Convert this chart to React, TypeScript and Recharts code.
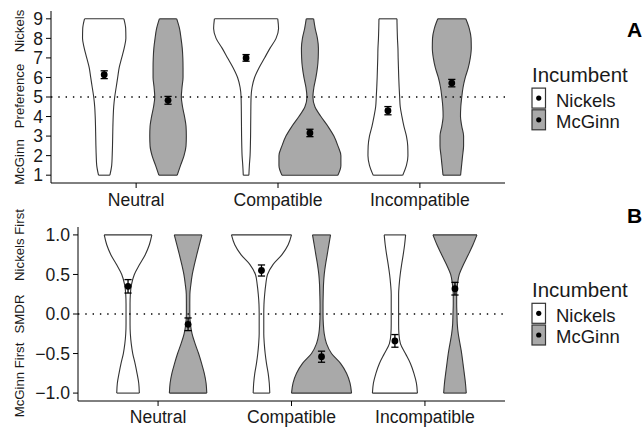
import React from "react";
import { ComposedChart, Area, Scatter, ErrorBar, XAxis, YAxis, ReferenceLine } from "recharts";

const CATEGORIES = ["Neutral", "Compatible", "Incompatible"];
const INCUMBENTS = ["Nickels", "McGinn"];
const FILLS = ["#ffffff", "#a9a9a9"];
const DODGE = 0.225;

// Panel A: preference (1 = McGinn .. 9 = Nickels)
const PREF_LEVELS = [1, 1.5, 2, 2.5, 3, 3.5, 4, 4.5, 5, 5.5, 6, 6.5, 7, 7.5, 8, 8.5, 9];
const PREF_TICKS = [1, 2, 3, 4, 5, 6, 7, 8, 9];
// violin half widths, read in px off the figure (142 px per category), bottom -> top
const PREF_NEUTRAL_NICKELS = [5.7, 7.5, 8, 8.3, 8.5, 8.7, 9, 9.5, 10.5, 12, 13.5, 15, 17.5, 20, 21.7, 21.5, 19.7];
const PREF_NEUTRAL_MCGINN = [9.2, 12.5, 16, 18, 18.3, 18, 16.5, 14.5, 13.3, 14, 15, 15, 14.8, 14.2, 13, 11.5, 8.7];
const PREF_COMPAT_NICKELS = [2.8, 3.3, 4, 4.3, 4.5, 4.6, 4.7, 4.8, 5, 6, 8.5, 13, 18.5, 24, 30, 32.5, 31.7];
const PREF_COMPAT_MCGINN = [28, 31, 31, 28, 24, 18, 11, 5, 3, 4, 6, 7.5, 8.3, 8.5, 7.5, 5.3, 3.7];
const PREF_INCOMPAT_NICKELS = [14.8, 18.5, 20, 19.8, 18.5, 16, 14, 12.3, 11.7, 11.2, 10.8, 10.5, 10.2, 10, 9.5, 9.2, 9];
const PREF_INCOMPAT_MCGINN = [8.8, 9.8, 10.8, 11.8, 11.8, 10, 8.7, 9, 10, 11.3, 13.5, 16.5, 18.5, 19.5, 19.3, 17.5, 14];
const PREF_MEAN_NICKELS = [6.14, 7.0, 4.3];
const PREF_SE_NICKELS = [0.2, 0.17, 0.21];
const PREF_MEAN_MCGINN = [4.83, 3.16, 5.71];
const PREF_SE_MCGINN = [0.2, 0.19, 0.19];

// Panel B: SMDR (-1 = McGinn first .. 1 = Nickels first)
const SMDR_LEVELS = [-1, -0.875, -0.75, -0.625, -0.5, -0.375, -0.25, -0.125, 0, 0.125, 0.25, 0.375, 0.5, 0.625, 0.75, 0.875, 1];
const SMDR_TICKS = [-1, -0.5, 0, 0.5, 1];
// half widths in px (133.4 px per category), bottom -> top
const SMDR_NEUTRAL_NICKELS = [11.3, 10.7, 9, 7, 4.7, 3.2, 2.3, 2, 2, 2, 2.3, 3.5, 6.3, 11.5, 17.2, 21.3, 23.8];
const SMDR_NEUTRAL_MCGINN = [18.7, 18, 16.2, 13.5, 10.5, 7, 4, 2.3, 1.7, 1.7, 1.8, 2.8, 4.2, 6.3, 8.7, 11.2, 13.8];
const SMDR_COMPAT_NICKELS = [8.3, 7.8, 6.7, 5, 3.7, 2.8, 2.3, 2.3, 2.3, 2.5, 3.2, 4.3, 6, 11.5, 20.5, 26.7, 30];
const SMDR_COMPAT_MCGINN = [30, 28.5, 25, 19, 10, 5, 2.7, 1.8, 1.5, 1.5, 1.7, 2, 2.7, 4, 5.7, 7.3, 9];
const SMDR_INCOMPAT_NICKELS = [22.5, 21.5, 19, 15.5, 10.5, 5.5, 4, 3.7, 3.7, 3.7, 3.7, 4.3, 5.3, 6.7, 8.3, 9.7, 10.7];
const SMDR_INCOMPAT_MCGINN = [11.3, 10.5, 9.3, 8, 6.7, 5, 3.3, 2.3, 2, 1.7, 1.7, 2.5, 4.3, 8.5, 13.3, 18, 22];
const SMDR_MEAN_NICKELS = [0.35, 0.55, -0.34];
const SMDR_SE_NICKELS = [0.085, 0.07, 0.08];
const SMDR_MEAN_MCGINN = [-0.13, -0.54, 0.32];
const SMDR_SE_MCGINN = [0.08, 0.07, 0.08];

const FONT = "'Liberation Sans', Arial, sans-serif";
const INK = "#1a1a1a";
const LINE = "#333333";

function centerOf(k: number) {
  const cat = Math.floor(k / 2) + 1;
  return k % 2 === 0 ? cat - DODGE : cat + DODGE;
}

function buildRows(levels: number[], widths: number[][], pxPerUnit: number) {
  return levels.map((y, i) => {
    const row: any = { y };
    widths.forEach((w, k) => {
      const c = centerOf(k);
      const hw = w[i] / pxPerUnit;
      row["v" + k] = [c - hw, c + hw];
    });
    return row;
  });
}

function buildPoints(means: number[][], ses: number[][]) {
  const pts: any[] = [];
  CATEGORIES.forEach((_, ci) => {
    INCUMBENTS.forEach((_, g) => {
      pts.push({ x: centerOf(ci * 2 + g), y: means[g][ci], err: ses[g][ci] });
    });
  });
  return pts;
}

function Panel(props: any) {
  const { levels, widths, pxPerUnit, points, domain, ticks, fmt, refY, yWidth, height, marginTop, xHeight, tickMargin } = props;
  const rows = buildRows(levels, widths, pxPerUnit);
  const last = levels.length - 1;
  const tickStyle = { fontSize: 17.6, fill: INK, fontFamily: FONT };
  return (
    <ComposedChart
      layout="vertical"
      width={642}
      height={height}
      data={rows}
      margin={{ top: marginTop, right: 137, bottom: 0, left: 0 }}
    >
      <XAxis
        type="number"
        dataKey="x"
        domain={[0.4, 3.6]}
        allowDataOverflow
        ticks={[1, 2, 3]}
        interval={0}
        tickFormatter={(v: number) => CATEGORIES[v - 1]}
        height={xHeight}
        tickSize={5}
        tickMargin={tickMargin}
        stroke="#000"
        tick={tickStyle}
      />
      <YAxis
        type="number"
        dataKey="y"
        domain={domain}
        reversed
        allowDataOverflow
        ticks={ticks}
        interval={0}
        tickFormatter={fmt}
        width={yWidth}
        tickSize={5}
        tickMargin={3}
        stroke="#000"
        tick={tickStyle}
      />
      {widths.map((_: number[], k: number) => (
        <Area
          key={"v" + k}
          dataKey={"v" + k}
          type="monotone"
          fill={FILLS[k % 2]}
          fillOpacity={1}
          stroke={LINE}
          strokeWidth={1.1}
          dot={false}
          activeDot={false}
          isAnimationActive={false}
        />
      ))}
      {widths.map((w: number[], k: number) => {
        const c = centerOf(k);
        return [
          <ReferenceLine
            key={"b" + k}
            segment={[{ x: c - w[0] / pxPerUnit, y: levels[0] }, { x: c + w[0] / pxPerUnit, y: levels[0] }]}
            stroke={LINE}
            strokeWidth={1.1}
          />,
          <ReferenceLine
            key={"t" + k}
            segment={[{ x: c - w[last] / pxPerUnit, y: levels[last] }, { x: c + w[last] / pxPerUnit, y: levels[last] }]}
            stroke={LINE}
            strokeWidth={1.1}
          />,
        ];
      })}
      <ReferenceLine y={refY} stroke="#000" strokeWidth={1.3} strokeDasharray="1.4 5.9" />
      <Scatter
        data={points}
        isAnimationActive={false}
        shape={(p: any) => <circle cx={p.cx} cy={p.cy} r={3.4} fill="#000" />}
      >
        <ErrorBar dataKey="err" direction="y" width={3.6} stroke="#000" strokeWidth={1.3} isAnimationActive={false} />
      </Scatter>
    </ComposedChart>
  );
}

function LegendBlock({ top }: { top: number }) {
  return (
    <g>
      <text x={532} y={top} fontSize={20.5} fill={INK}>Incumbent</text>
      {INCUMBENTS.map((name, i) => {
        const y0 = top + 6.6 + i * 21.7;
        return (
          <g key={name}>
            <rect x={532} y={y0} width={13.5} height={20} fill={FILLS[i]} stroke={LINE} strokeWidth={1.2} />
            <circle cx={538.75} cy={y0 + 10} r={2.6} fill="#000" />
            <text x={556} y={y0 + 18.4} fontSize={18.5} fill={INK}>{name}</text>
          </g>
        );
      })}
    </g>
  );
}

export default function App() {
  const prefPoints = buildPoints([PREF_MEAN_NICKELS, PREF_MEAN_MCGINN], [PREF_SE_NICKELS, PREF_SE_MCGINN]);
  const smdrPoints = buildPoints([SMDR_MEAN_NICKELS, SMDR_MEAN_MCGINN], [SMDR_SE_NICKELS, SMDR_SE_MCGINN]);
  const prefWidths = [PREF_NEUTRAL_NICKELS, PREF_NEUTRAL_MCGINN, PREF_COMPAT_NICKELS, PREF_COMPAT_MCGINN, PREF_INCOMPAT_NICKELS, PREF_INCOMPAT_MCGINN];
  const smdrWidths = [SMDR_NEUTRAL_NICKELS, SMDR_NEUTRAL_MCGINN, SMDR_COMPAT_NICKELS, SMDR_COMPAT_MCGINN, SMDR_INCOMPAT_NICKELS, SMDR_INCOMPAT_MCGINN];
  return (
    <div style={{ position: "absolute", left: 0, top: 0, width: 642, height: 427, background: "#fff", fontFamily: FONT }}>
      <div style={{ position: "absolute", left: 0, top: 0 }}>
        <Panel
          levels={PREF_LEVELS}
          widths={prefWidths}
          pxPerUnit={142}
          points={prefPoints}
          domain={[0.6, 9.4]}
          ticks={PREF_TICKS}
          fmt={(v: number) => String(v)}
          refY={5}
          yWidth={51}
          height={214}
          marginTop={11}
          xHeight={31}
          tickMargin={6}
        />
      </div>
      <div style={{ position: "absolute", left: 0, top: 214 }}>
        <Panel
          levels={SMDR_LEVELS}
          widths={smdrWidths}
          pxPerUnit={133.4}
          points={smdrPoints}
          domain={[-1.1, 1.1]}
          ticks={SMDR_TICKS}
          fmt={(v: number) => (v < 0 ? "\u2212" : "") + Math.abs(v).toFixed(1)}
          refY={0}
          yWidth={78}
          height={213}
          marginTop={13}
          xHeight={26}
          tickMargin={5}
        />
      </div>
      <svg width={642} height={427} style={{ position: "absolute", left: 0, top: 0, pointerEvents: "none" }} fontFamily={FONT}>
        <g fontSize={13.2} fill={INK} textAnchor="middle">
          <text transform="translate(24,162) rotate(-90)">McGinn</text>
          <text transform="translate(24,96) rotate(-90)">Preference</text>
          <text transform="translate(24,31) rotate(-90)">Nickels</text>
          <text transform="translate(24,380) rotate(-90)">McGinn First</text>
          <text transform="translate(24,314) rotate(-90)">SMDR</text>
          <text transform="translate(24,245) rotate(-90)">Nickels First</text>
        </g>
        <text x={627} y={37} fontSize={21} fontWeight="bold" fill="#000">A</text>
        <text x={627} y={223} fontSize={21} fontWeight="bold" fill="#000">B</text>
        <LegendBlock top={81.5} />
        <LegendBlock top={296.7} />
      </svg>
    </div>
  );
}
